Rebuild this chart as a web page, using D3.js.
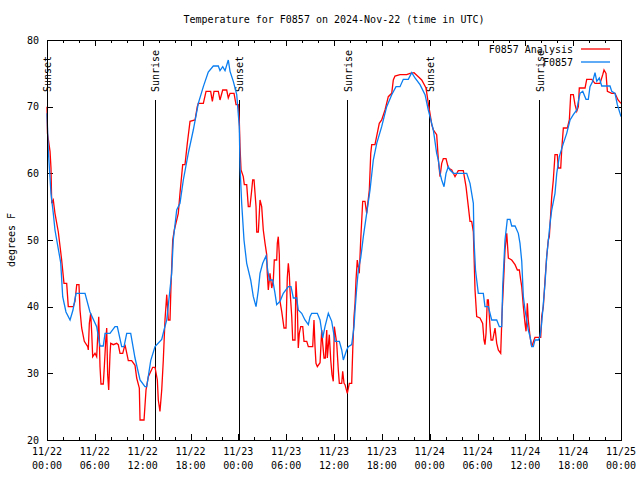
<!DOCTYPE html>
<html><head><meta charset="utf-8">
<script src="https://cdn.jsdelivr.net/npm/d3@7"></script>
<style>
body{margin:0;background:#fff;}
text{font-family:"DejaVu Sans Mono",monospace;font-size:10px;fill:#000;}
</style></head>
<body><svg id="c" width="640" height="480"></svg>
<script>
const title = "Temperature for F0857 on 2024-Nov-22 (time in UTC)";
const yLabel = "degrees F";
const seriesNames = ["F0857 Analysis", "F0857"];
const seriesColors = ["#ff0000", "#0a7ef0"];
const xTickHours = [0,6,12,18,24,30,36,42,48,54,60,66,72];
const xTickDates = ["11/22","11/22","11/22","11/22","11/23","11/23","11/23","11/23","11/24","11/24","11/24","11/24","11/25"];
const xTickTimes = ["00:00","06:00","12:00","18:00","00:00","06:00","12:00","18:00","00:00","06:00","12:00","18:00","00:00"];
const yTicks = [20,30,40,50,60,70,80];
const sunHours = [0.02, 13.55, 24.12, 37.70, 48.04, 61.78];
const sunLabels = ["Sunset","Sunrise","Sunset","Sunrise","Sunset","Sunrise"];

// hours since 11/22 00:00 UTC, temperature in F
const analysisHours = [0.00,0.06,0.38,0.50,0.59,0.79,1.00,1.42,1.54,1.84,2.13,2.47,2.67,3.30,3.51,3.73,4.01,4.14,4.35,4.68,5.11,5.18,5.31,5.48,5.61,5.73,6.02,6.23,6.49,6.65,6.77,7.06,7.19,7.36,7.49,7.61,7.74,7.90,7.99,8.32,8.74,8.94,9.16,9.50,9.78,10.20,10.62,11.04,11.25,11.58,11.67,12.17,12.42,12.71,13.26,13.55,13.84,13.96,14.17,14.39,14.59,14.80,15.02,15.22,15.43,15.55,15.77,15.97,16.47,16.68,17.02,17.31,17.60,17.94,18.57,18.85,18.98,19.61,19.95,20.53,20.74,20.95,21.49,21.70,22.04,22.54,22.74,22.96,23.46,23.71,24.00,24.12,24.21,24.34,24.62,24.75,25.05,25.25,25.46,25.68,25.80,25.97,26.22,26.31,26.51,26.72,26.93,27.13,27.35,27.56,27.63,27.76,27.97,28.19,28.39,28.51,28.81,28.89,29.01,29.14,29.23,29.44,29.73,29.98,30.14,30.27,30.39,30.48,30.70,30.82,31.11,31.23,31.40,31.52,31.65,31.82,32.08,32.24,32.58,32.78,33.33,33.49,33.62,33.74,33.91,34.25,34.46,34.58,34.75,34.91,35.09,35.16,35.41,35.59,35.75,35.91,36.04,36.16,36.34,36.54,36.67,36.97,37.09,37.26,37.38,37.67,37.92,38.22,38.35,38.51,38.64,38.76,38.92,39.17,39.35,39.60,39.89,40.10,40.43,40.61,40.73,41.14,41.68,41.98,42.40,42.81,43.24,43.44,43.65,44.28,45.12,45.54,46.04,46.58,47.00,47.54,47.83,48.04,48.26,48.46,48.88,49.09,49.30,49.51,49.71,50.05,50.34,50.77,51.18,51.59,52.22,52.56,52.85,53.06,53.27,53.48,53.69,53.90,54.31,54.65,54.81,54.94,55.07,55.23,55.36,55.57,55.70,55.91,56.20,56.41,56.61,56.91,57.08,57.24,57.45,57.67,57.87,58.29,58.71,59.00,59.25,59.42,59.55,59.75,59.96,60.09,60.25,60.37,60.59,60.80,61.09,61.21,61.93,62.05,62.26,62.47,62.68,62.88,63.01,63.31,63.51,63.72,64.01,64.14,64.44,64.56,64.77,65.27,65.52,65.69,66.02,66.23,66.45,66.65,66.77,67.49,67.70,68.33,68.74,69.37,69.71,69.87,70.12,70.29,70.84,71.25,71.63,72.00];
const analysisTemps = [70.0,66.0,63.3,60.8,55.5,56.0,54.0,51.2,50.0,47.0,43.5,43.5,40.0,40.0,40.8,43.3,43.3,39.5,36.8,34.8,34.0,33.5,37.5,39.0,36.0,32.5,33.0,32.5,38.5,31.0,28.4,28.4,31.0,34.8,36.8,29.8,27.5,32.8,34.5,34.3,34.5,34.3,33.0,33.0,34.3,31.9,31.9,31.2,29.3,27.8,23.0,23.0,27.5,29.5,30.9,30.9,29.0,26.0,24.3,27.5,32.0,38.0,41.8,38.0,38.0,43.0,50.0,51.5,54.0,57.0,61.3,61.3,64.5,67.8,68.0,70.0,70.5,70.5,72.3,72.3,70.8,72.3,72.3,71.0,72.5,72.5,71.3,72.0,72.0,70.3,70.3,68.0,64.0,60.5,59.5,58.3,58.3,55.0,55.0,57.5,59.0,59.0,55.0,51.2,51.2,56.0,55.0,51.5,49.5,47.8,45.0,42.5,45.0,42.8,44.0,47.0,47.0,49.5,50.5,47.8,40.8,39.3,36.8,36.8,44.3,46.5,45.0,42.5,38.5,35.0,35.0,43.8,40.0,33.8,36.0,37.0,37.0,34.8,34.8,34.0,34.0,38.0,34.0,31.5,31.0,31.6,36.5,34.5,32.3,32.3,36.5,32.3,35.8,32.0,29.8,28.8,37.0,36.0,34.5,30.5,28.5,28.5,30.3,28.5,28.3,27.0,28.5,28.5,33.5,38.5,40.5,44.0,47.0,45.0,50.0,55.8,55.8,54.0,57.5,63.0,64.3,64.3,67.5,68.0,69.5,71.5,72.0,74.0,74.6,74.8,74.8,75.0,75.1,74.5,74.0,72.8,70.5,69.0,67.3,66.5,65.8,62.0,59.5,61.5,62.2,62.2,60.8,60.5,59.5,60.4,60.4,58.0,55.0,52.8,52.8,51.2,42.5,38.5,38.3,37.5,35.0,34.3,36.0,41.0,41.0,37.0,35.0,35.0,36.8,34.5,33.5,33.0,39.0,43.0,48.5,51.0,47.3,47.0,46.3,45.5,45.5,44.0,43.0,40.0,37.5,36.3,40.5,38.0,35.5,34.0,35.0,35.4,35.4,38.5,40.0,44.0,47.5,50.0,50.5,56.5,59.0,62.8,62.8,60.8,60.8,63.5,66.8,66.8,68.0,71.8,71.8,70.3,69.3,70.0,72.8,72.8,74.1,74.1,73.5,73.5,74.8,75.5,75.0,72.3,72.0,72.0,71.0,70.5,69.0];

const obsHours = [0.00,0.16,0.50,0.79,1.00,1.72,1.97,2.38,2.89,3.26,3.64,4.77,5.39,6.23,6.65,7.06,7.28,7.90,8.53,8.82,9.37,9.66,10.00,10.50,11.04,11.67,12.29,12.51,13.01,13.55,14.39,14.68,15.02,15.64,15.84,16.27,16.68,17.10,17.72,18.35,18.98,19.61,20.23,20.86,21.49,21.70,22.04,22.33,22.74,22.96,23.37,23.80,24.12,24.21,24.42,24.71,25.05,25.55,25.88,26.22,26.51,26.72,27.06,27.47,27.68,27.89,28.31,28.60,28.81,29.23,29.64,30.27,30.61,30.90,31.32,31.52,31.95,32.36,32.78,32.99,33.20,33.91,34.25,34.58,34.87,35.29,35.71,36.13,36.67,36.97,37.17,37.59,37.80,38.22,38.51,38.64,38.85,39.05,39.35,39.68,40.10,40.52,40.93,41.36,41.98,42.61,43.24,43.78,44.28,44.69,45.32,45.75,46.16,46.79,47.42,47.83,48.04,48.46,48.88,49.09,49.30,49.51,49.80,50.05,50.34,50.55,50.97,52.65,53.06,53.48,53.56,53.75,54.10,54.73,54.94,55.36,55.78,56.41,56.74,57.04,57.16,57.45,57.74,58.08,58.29,58.71,59.12,59.33,59.55,59.75,59.96,60.17,60.37,60.59,60.80,61.00,61.21,61.63,61.84,62.05,62.26,62.47,62.68,63.10,63.31,63.72,63.94,64.26,64.77,65.19,65.61,66.02,66.45,66.65,66.86,67.20,67.61,67.90,68.11,68.45,68.74,68.96,69.28,69.58,70.62,70.84,71.25,71.54,71.88,72.00];
const obsTemps = [69.0,63.5,57.0,54.0,51.5,46.6,41.5,39.2,38.0,39.5,42.0,42.0,39.2,37.0,34.1,34.1,36.0,36.0,37.0,37.0,34.0,34.0,36.0,36.0,32.3,29.0,28.0,28.0,31.9,34.0,35.1,36.5,38.0,45.0,50.0,54.5,55.5,59.0,63.0,66.5,70.5,73.0,75.2,76.1,76.1,75.4,76.0,75.4,77.0,75.3,73.8,71.8,67.0,61.0,55.5,50.0,46.5,44.0,41.5,40.0,42.5,45.0,46.5,47.6,45.5,44.0,44.0,42.0,40.3,40.8,42.0,43.0,43.0,41.3,41.3,39.5,39.0,38.0,37.3,38.5,39.0,39.0,38.0,35.3,37.0,39.0,37.8,34.8,34.8,33.5,32.0,33.5,34.0,34.3,37.0,39.5,42.8,45.5,47.3,50.5,54.0,57.5,62.0,64.5,67.0,70.0,71.8,73.0,73.0,74.1,74.1,75.1,74.3,73.3,71.8,69.5,68.5,66.5,63.0,62.0,60.0,59.0,58.0,60.0,61.0,60.5,60.0,60.0,58.5,55.5,50.0,45.5,42.0,42.0,40.0,40.0,38.0,38.0,37.0,37.0,43.0,50.0,53.1,53.1,52.1,52.1,51.0,49.5,46.8,41.5,39.5,38.0,36.5,35.5,34.0,34.0,35.0,35.0,35.5,37.5,40.5,43.5,47.5,52.5,54.5,57.0,60.0,62.5,64.5,66.0,68.0,68.8,69.5,70.8,72.0,72.3,71.1,71.1,73.0,73.8,75.1,73.8,74.3,73.1,73.1,72.3,72.0,70.3,69.0,68.5];

const svg = d3.select("#c");
const L = 47, R = 621, T = 40, B = 440;
const x = d3.scaleLinear().domain([0, 72]).range([L, R]);
const y = d3.scaleLinear().domain([20, 80]).range([B, T]);

// title
svg.append("text").attr("x", (L + R) / 2).attr("y", 23).attr("text-anchor", "middle").text(title);
// y label
svg.append("text").attr("transform", `translate(15,${(T + B) / 2}) rotate(-90)`).attr("text-anchor", "middle").text(yLabel);

// axes (inward ticks)
const gB = svg.append("g").attr("transform", `translate(0,${B})`)
  .call(d3.axisBottom(x).tickValues(d3.range(0, 73, 2)).tickSizeInner(-3).tickSizeOuter(0).tickFormat(""));
const gB2 = svg.append("g").attr("transform", `translate(0,${B})`)
  .call(d3.axisBottom(x).tickValues(xTickHours).tickSizeInner(-6).tickSizeOuter(0).tickFormat(""));
const gT = svg.append("g").attr("transform", `translate(0,${T})`)
  .call(d3.axisTop(x).tickValues(d3.range(0, 73, 2)).tickSizeInner(-3).tickSizeOuter(0).tickFormat(""));
const gT2 = svg.append("g").attr("transform", `translate(0,${T})`)
  .call(d3.axisTop(x).tickValues(xTickHours).tickSizeInner(-6).tickSizeOuter(0).tickFormat(""));
const gL = svg.append("g").attr("transform", `translate(${L},0)`)
  .call(d3.axisLeft(y).tickValues(yTicks).tickSizeInner(-6).tickSizeOuter(0).tickPadding(8).tickFormat(d3.format("d")));
const gR = svg.append("g").attr("transform", `translate(${R},0)`)
  .call(d3.axisRight(y).tickValues(yTicks).tickSizeInner(-6).tickSizeOuter(0).tickFormat(""));
svg.selectAll(".domain").remove();
svg.selectAll(".tick line").attr("stroke", "#000").attr("shape-rendering", "crispEdges");
gL.selectAll("text").attr("font-family", "DejaVu Sans Mono").attr("font-size", 10).attr("fill", "#000");

// x labels two lines
const xl = svg.append("g");
xTickHours.forEach((h, i) => {
  const t = xl.append("text").attr("x", x(h)).attr("text-anchor", "middle");
  t.append("tspan").attr("x", x(h)).attr("y", 455).text(xTickDates[i]);
  t.append("tspan").attr("x", x(h)).attr("y", 469).text(xTickTimes[i]);
});

// sun lines
const sun = svg.append("g");
sunHours.forEach((h, i) => {
  sun.append("line").attr("x1", x(h)).attr("x2", x(h)).attr("y1", 100).attr("y2", B)
    .attr("stroke", "#000").attr("stroke-width", 1).attr("shape-rendering", "crispEdges");
  sun.append("text").attr("transform", `translate(${x(h) + 4},92) rotate(-90)`).text(sunLabels[i]);
});

// series
const line = d3.line().x(d => x(d[0])).y(d => y(d[1]));
const red = analysisHours.map((h, i) => [h, analysisTemps[i]]);
const blue = obsHours.map((h, i) => [h, obsTemps[i]]);
svg.append("path").datum(red).attr("d", line).attr("fill", "none").attr("stroke", seriesColors[0]).attr("stroke-width", 1.3);
svg.append("path").datum(blue).attr("d", line).attr("fill", "none").attr("stroke", seriesColors[1]).attr("stroke-width", 1.3);

// frame
svg.append("rect").attr("x", L + 0.5).attr("y", T + 0.5).attr("width", R - L).attr("height", B - T)
  .attr("fill", "none").attr("stroke", "#000").attr("stroke-width", 1);

// legend
const leg = svg.append("g");
seriesNames.forEach((n, i) => {
  const yy = 49 + i * 13;
  leg.append("text").attr("x", 573).attr("y", yy + 4).attr("text-anchor", "end").text(n);
  leg.append("line").attr("x1", 581).attr("x2", 610).attr("y1", yy).attr("y2", yy)
    .attr("stroke", seriesColors[i]).attr("stroke-width", 1.3);
});
</script></body></html>
